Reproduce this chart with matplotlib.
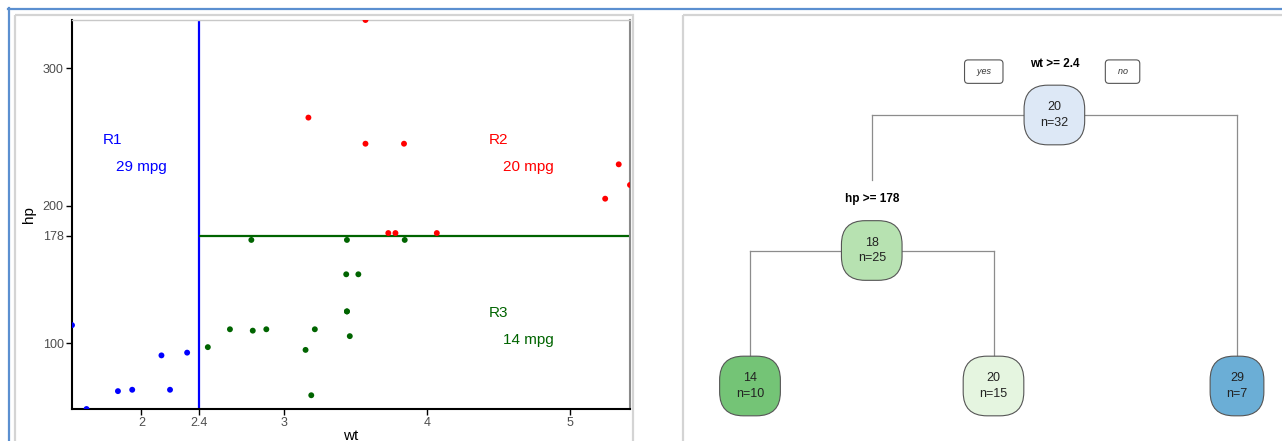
import numpy as np
import matplotlib.pyplot as plt
from matplotlib.patches import Rectangle

plt.rcParams['font.family'] = ['Liberation Sans', 'DejaVu Sans']

# ============================================================
# DADOS (mtcars: wt x hp)
# ============================================================
wt = np.array([2.620, 2.875, 2.320, 3.215, 3.440, 3.460, 3.570, 3.190, 3.150, 3.440,
               3.440, 4.070, 3.730, 3.780, 5.250, 5.424, 5.345, 2.200, 1.615, 1.835,
               2.465, 3.520, 3.435, 3.840, 3.845, 1.935, 2.140, 1.513, 3.170, 2.770,
               3.570, 2.780])
hp = np.array([110, 110, 93, 110, 175, 105, 245, 62, 95, 123,
               123, 180, 180, 180, 205, 215, 230, 66, 52, 65,
               97, 150, 150, 245, 175, 66, 91, 113, 264, 175,
               335, 109])

corte_wt = 2.4
corte_hp = 178

x_ticks = [2, 2.4, 3, 4, 5]
x_labels = ["2", "2.4", "3", "4", "5"]
y_ticks = [100, 178, 200, 300]

regioes = ["R1", "R2", "R3"]
mpg_regiao = ["29 mpg", "20 mpg", "14 mpg"]
cor_regiao = ["blue", "red", "darkgreen"]

# arvore: valor, n, cor, profundidade, filhos
no_valor = ["20", "18", "14", "20", "29"]
no_n = [32, 25, 10, 15, 7]
no_cor = ["#dde8f6", "#b7e2b1", "#74c476", "#e5f5e0", "#6baed6"]
no_prof = [0, 1, 2, 2, 2]
no_filhos = {0: (1, 4), 1: (2, 3)}
no_regra = {0: "wt >= 2.4", 1: "hp >= 178"}
folhas = [2, 3, 4]

# ============================================================
# FIGURA
# ============================================================
W, H = 1282, 441
fig = plt.figure(figsize=(W / 100, H / 100), dpi=100)


def caixa(x0, y0, x1, y1):
    return [x0 / W, 1 - y1 / H, (x1 - x0) / W, (y1 - y0) / H]


# moldura de fundo (screenshot)
bg = fig.add_axes([0, 0, 1, 1])
bg.set_xlim(0, W)
bg.set_ylim(H, 0)
bg.axis("off")
bg.plot([8, W], [8.5, 8.5], color="#5b8fd0", lw=1.6)
bg.plot([8.5, 8.5], [8, H], color="#5b8fd0", lw=1.6)
bg.add_patch(Rectangle((14.5, 14.5), 618, 440, fill=False, ec="#d4d4d4", lw=1.6))
bg.add_patch(Rectangle((682.5, 14.5), 620, 440, fill=False, ec="#d4d4d4", lw=1.6))

# ============================================================
# GRAFICO DE DISPERSAO
# ============================================================
ax = fig.add_axes(caixa(72, 20, 630, 409))
cores = np.where(wt < corte_wt, "blue", np.where(hp >= corte_hp, "red", "darkgreen"))
ax.scatter(wt, hp, c=cores, s=18, linewidths=0, zorder=3)
ax.axvline(corte_wt, color="blue", lw=1.6, zorder=2)
ax.hlines(corte_hp, corte_wt, wt.max(), color="darkgreen", lw=1.6, zorder=2)
ax.set_xlim(wt.min(), wt.max())
ax.set_ylim(hp.min(), hp.max())

ax.set_xticks(x_ticks)
ax.set_xticklabels(x_labels)
ax.set_yticks(y_ticks)
ax.tick_params(length=4, width=1, pad=2, labelsize=9, labelcolor="#4d4d4d")
ax.set_xlabel("wt", fontsize=11, labelpad=0)
ax.set_ylabel("hp", fontsize=11, labelpad=5)

for lado in ["left", "bottom"]:
    ax.spines[lado].set_linewidth(1.5)
    ax.spines[lado].set_color("black")
ax.spines["top"].set_color("#c8c8c8")
ax.spines["top"].set_linewidth(1)
ax.spines["right"].set_color("#8a8a8a")
ax.spines["right"].set_linewidth(1.5)

pos_reg = [(1.80, 248), (4.50, 248), (4.50, 122)]
pos_mpg = [(2.00, 228), (4.71, 228), (4.71, 102)]
for i in range(3):
    ax.text(*pos_reg[i], regioes[i], color=cor_regiao[i], fontsize=11, ha="center", va="center")
    ax.text(*pos_mpg[i], mpg_regiao[i], color=cor_regiao[i], fontsize=11, ha="center", va="center")

# ============================================================
# ARVORE DE DECISAO
# ============================================================
dx, dy = 243.5, 135.5  # pixels por folha / por nivel
ax2 = fig.add_axes(caixa(684, 16, 1280, 441))
ax2.set_xlim((684 - 750) / dx, (1280 - 750) / dx)
ax2.set_ylim((441 - 115) / dy, (16 - 115) / dy)
ax2.axis("off")

# posicoes: folhas igualmente espacadas, pais no meio dos filhos
no_x = {}
for i, f in enumerate(folhas):
    no_x[f] = float(i)


def pos_x(no):
    if no not in no_x:
        e, d = no_filhos[no]
        no_x[no] = (pos_x(e) + pos_x(d)) / 2
    return no_x[no]


for no in range(len(no_valor)):
    pos_x(no)

cor_linha = "#8c8c8c"
for pai, (e, d) in no_filhos.items():
    y = no_prof[pai]
    ax2.plot([no_x[e], no_x[d]], [y, y], color=cor_linha, lw=0.9, zorder=1)
    for filho in (e, d):
        fim = no_prof[filho] - 0.52 if filho in no_filhos else no_prof[filho]
        ax2.plot([no_x[filho], no_x[filho]], [y, fim], color=cor_linha, lw=0.9, zorder=1)

for no in range(len(no_valor)):
    ax2.text(no_x[no], no_prof[no], f"{no_valor[no]}\nn={no_n[no]}", fontsize=9,
             ha="center", va="center", color="#222222", linespacing=1.35, zorder=3,
             bbox=dict(boxstyle="round,pad=1.3,rounding_size=1.9", fc=no_cor[no],
                       ec="#555555", lw=0.8))
    if no in no_regra:
        ax2.text(no_x[no], no_prof[no] - 0.38, no_regra[no], fontsize=8.5,
                 fontweight="bold", ha="center", va="center", zorder=3)

# rotulos yes / no
raiz = 0
for rot, desloc in [("  yes  ", -0.29), ("  no  ", 0.28)]:
    ax2.text(no_x[raiz] + desloc, no_prof[raiz] - 0.32, rot, fontsize=6.5, style="italic",
             ha="center", va="center", color="#333333", zorder=3,
             bbox=dict(boxstyle="round,pad=0.8,rounding_size=0.4", fc="white",
                       ec="#555555", lw=0.8))

plt.savefig("out.png", dpi=100)
